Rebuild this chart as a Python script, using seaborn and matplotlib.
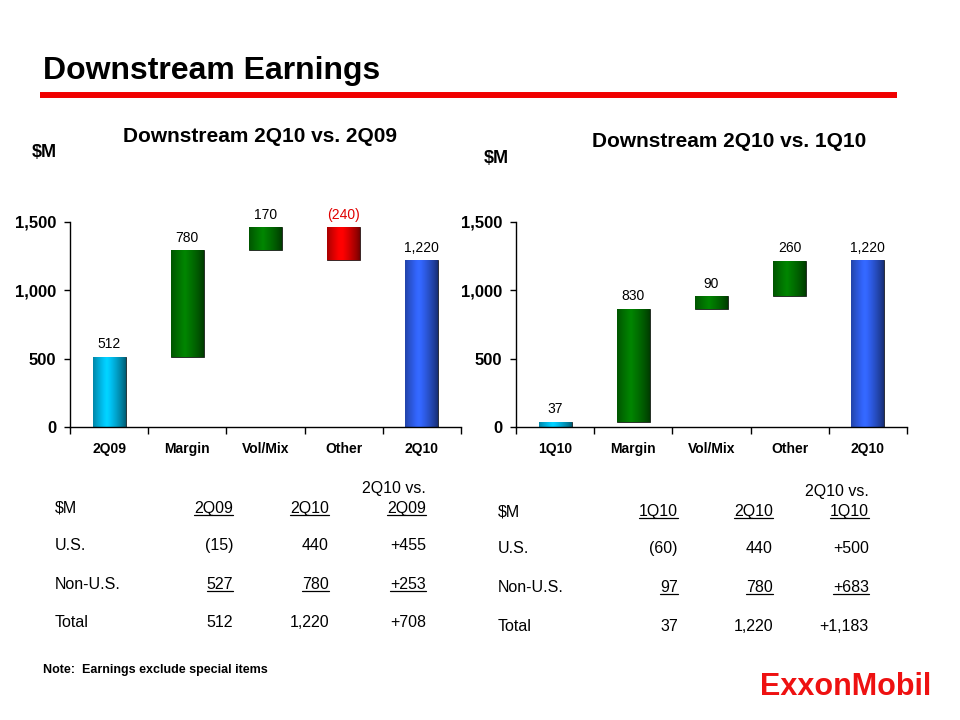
import matplotlib
matplotlib.use("Agg")
from matplotlib import pyplot as plt
from matplotlib.lines import Line2D
from matplotlib.colors import to_rgb
import numpy as np
import pandas as pd
import seaborn as sns

# waterfall data
left_cats = ["2Q09", "Margin", "Vol/Mix", "Other", "2Q10"]
left_vals = [512, 780, 170, -240, 1220]
left_labels = ["512", "780", "170", "(240)", "1,220"]
right_cats = ["1Q10", "Margin", "Vol/Mix", "Other", "2Q10"]
right_vals = [37, 830, 90, 260, 1220]
right_labels = ["37", "830", "90", "260", "1,220"]
bar_kinds = ["start", "delta", "delta", "delta", "end"]

y_ticks = [0, 500, 1000, 1500]
y_tick_labels = ["0", "500", "1,000", "1,500"]

# tables under the charts
row_names = ["U.S.", "Non-U.S.", "Total"]
left_head = ["2Q09", "2Q10", "2Q09"]
left_table = [["(15)", "440", "+455"], ["527", "780", "+253"], ["512", "1,220", "+708"]]
right_head = ["1Q10", "2Q10", "1Q10"]
right_table = [["(60)", "440", "+500"], ["97", "780", "+683"], ["37", "1,220", "+1,183"]]

CYAN, GREEN, RED, BLUE = "#00ccff", "#008000", "#ff0000", "#3366ff"

sns.set_style("white")
plt.rcParams["font.family"] = ["Liberation Sans", "DejaVu Sans"]
plt.rcParams["text.color"] = "black"
plt.rcParams["xtick.color"] = "black"
plt.rcParams["ytick.color"] = "black"

W, H = 960, 720
fig = plt.figure(figsize=(9.6, 7.2), dpi=100)


def px(x, y):
    return x / W, 1 - y / H


def shade(ax, p, color):
    # cylinder-like shading across the bar
    t = np.linspace(0, 1, 64)
    f = 0.45 + 0.6 * np.clip(1 - np.abs(t - 0.42) / 0.58, 0, 1) ** 0.8
    f = np.clip(f, 0, 1.05)
    rgb = np.array(to_rgb(color))
    img = np.clip(rgb[None, None, :] * f[None, :, None], 0, 1)
    x0, y0 = p.get_x(), p.get_y()
    im = ax.imshow(img, extent=[x0, x0 + p.get_width(), y0, y0 + p.get_height()],
                   aspect="auto", interpolation="bilinear", zorder=p.get_zorder() + 0.1)
    im.set_clip_path(p)


def waterfall(ax, cats, vals, labels):
    bottoms, heights, colors = [], [], []
    running = 0
    for kind, v in zip(bar_kinds, vals):
        if kind == "start":
            b, h, c = 0, v, CYAN
            running = v
        elif kind == "end":
            b, h, c = 0, v, BLUE
        else:
            b, h = min(running, running + v), abs(v)
            c = GREEN if v >= 0 else RED
            running += v
        bottoms.append(b)
        heights.append(h)
        colors.append(c)
    df = pd.DataFrame({"cat": cats, "height": heights})
    sns.barplot(data=df, x="cat", y="height", hue="cat", palette=colors,
                legend=False, width=0.42, errorbar=None, ax=ax, saturation=1,
                edgecolor="#1a1a1a", linewidth=0.6)
    for p, b, lab, v, c in zip(list(ax.patches), bottoms, labels, vals, colors):
        p.set_y(b)
        shade(ax, p, c)
        top = b + p.get_height()
        ax.annotate(lab, (p.get_x() + p.get_width() / 2, top),
                    xytext=(0, 4), textcoords="offset points",
                    ha="center", va="bottom", fontsize=10,
                    color="#e00000" if v < 0 else "black")

    ax.set_ylim(0, 1500)
    ax.set_xlim(-0.5, len(cats) - 0.5)
    ax.set_yticks(y_ticks)
    ax.set_yticklabels(y_tick_labels, fontsize=12, fontweight="heavy")
    ax.set_xticks(np.arange(-0.5, len(cats), 1))
    ax.set_xticklabels([])
    ax.set_xticks(range(len(cats)), minor=True)
    ax.set_xticklabels(cats, minor=True, fontsize=10, fontweight="heavy")
    ax.set_xlabel("")
    ax.set_ylabel("")
    ax.tick_params(axis="y", direction="out", length=4, width=1, color="black", pad=6, left=True)
    ax.tick_params(axis="x", which="major", direction="out", length=5, width=1, color="black", bottom=True)
    ax.tick_params(axis="x", which="minor", length=0, pad=11)
    for s in ["top", "right"]:
        ax.spines[s].set_visible(False)
    for s in ["left", "bottom"]:
        ax.spines[s].set_color("black")
        ax.spines[s].set_linewidth(1)


ax1 = fig.add_axes([70 / W, 1 - 427 / H, (461 - 70) / W, (427 - 222) / H])
waterfall(ax1, left_cats, left_vals, left_labels)
ax2 = fig.add_axes([516 / W, 1 - 427 / H, (907 - 516) / W, (427 - 222) / H])
waterfall(ax2, right_cats, right_vals, right_labels)

# header
fig.text(*px(43, 79), "Downstream Earnings", fontsize=23, fontweight="bold", va="baseline")
fig.add_artist(Line2D([40 / W, 897 / W], [1 - 95 / H] * 2, color="#f00000", linewidth=4.3,
                      solid_capstyle="butt"))
fig.text(*px(260, 142), "Downstream 2Q10 vs. 2Q09", fontsize=15, fontweight="bold", ha="center", va="baseline")
fig.text(*px(729, 147), "Downstream 2Q10 vs. 1Q10", fontsize=15, fontweight="bold", ha="center", va="baseline")
fig.text(*px(32, 157), "$M", fontsize=13, fontweight="bold", va="baseline")
fig.text(*px(484, 163), "$M", fontsize=13, fontweight="bold", va="baseline")

underlined = []


def table(x0, cols, y_head, rows_y, head, data):
    fig.text(*px(x0, y_head), "$M", fontsize=11.5, va="baseline")
    fig.text(*px(cols[2], y_head - 20), "2Q10 vs.", fontsize=11.5, ha="right", va="baseline")
    for cx, h in zip(cols, head):
        t = fig.text(*px(cx, y_head), h, fontsize=11.5, ha="right", va="baseline")
        underlined.append((t, y_head))
    for ry, name, vals in zip(rows_y, row_names, data):
        fig.text(*px(x0, ry), name, fontsize=11.5, va="baseline")
        for cx, v in zip(cols, vals):
            t = fig.text(*px(cx, ry), v, fontsize=11.5, ha="right", va="baseline")
            if name == "Non-U.S.":
                underlined.append((t, ry))


table(55, [233, 329, 426], 513, [550, 589, 627], left_head, left_table)
table(498, [678, 773, 869], 516, [553, 592, 631], right_head, right_table)

fig.text(*px(43, 673), "Note:  Earnings exclude special items", fontsize=9, fontweight="bold", va="baseline")
fig.text(*px(760, 695), "ExxonMobil", fontsize=22, fontweight="bold", color="#ee1111", va="baseline")

fig.canvas.draw()
for t, y in underlined:
    bb = t.get_window_extent()
    fig.add_artist(Line2D([bb.x0 / W, bb.x1 / W], [1 - (y + 2) / H] * 2, color="black", linewidth=0.9))

fig.savefig("out.png", dpi=100)
